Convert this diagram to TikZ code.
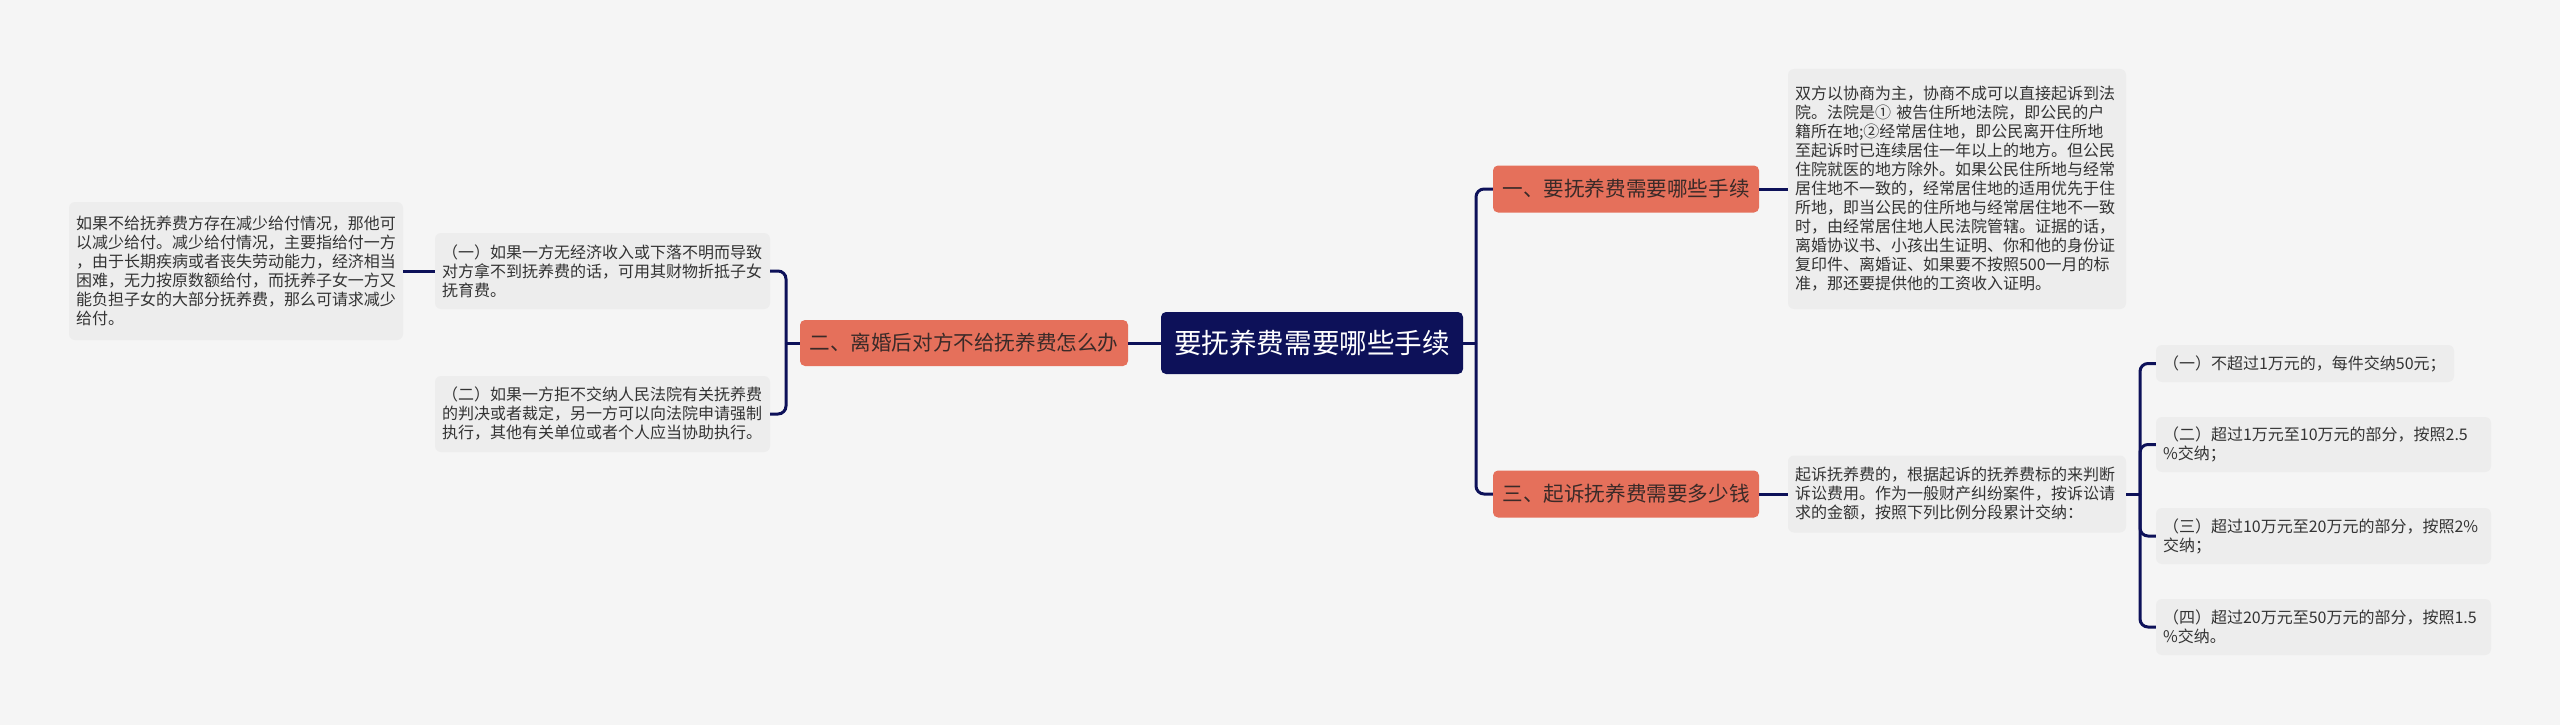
\documentclass[tikz,border=0pt]{standalone}
\usepackage{fontspec}
\setmainfont{Noto Sans CJK SC}
\usetikzlibrary{calc}
\definecolor{bg}{HTML}{F5F5F5}
\definecolor{navy}{HTML}{0D1159}
\definecolor{salmon}{HTML}{E5705B}
\definecolor{leaf}{HTML}{EDEDED}
\definecolor{txt}{HTML}{333333}
\definecolor{brtxt}{HTML}{3A2A28}
\begin{document}
\begin{tikzpicture}[x=1pt,y=-1pt,
  conn/.style={draw=navy,line width=3pt,rounded corners=8pt},
  leafbox/.style={fill=leaf,rounded corners=6pt,text=txt,font={\fontsize{16}{19}\selectfont},align=left,inner sep=0pt},
  branch/.style={fill=salmon,rounded corners=5pt,text=brtxt,font={\fontsize{20.6}{24}\selectfont},inner sep=0pt,minimum height=47pt},
  rootbox/.style={fill=navy,rounded corners=5pt,text=white,font={\fontsize{27.6}{32}\selectfont},inner sep=0pt,minimum width=302pt,minimum height=62pt}]
\fill[bg] (0,0) rectangle (2560,725);
\useasboundingbox (0,0) rectangle (2560,725);
% root
\node[rootbox] (C) at (1312,343) {要抚养费需要哪些手续};
% branches
\node[branch,minimum width=328pt,minimum height=46pt] (N2) at (964,343) {二、离婚后对方不给抚养费怎么办};
\node[branch,minimum width=266pt] (N1) at (1626,189) {一、要抚养费需要哪些手续};
\node[branch,minimum width=266pt] (N3) at (1626,494) {三、起诉抚养费需要多少钱};
% left leaves
\node[leafbox,minimum width=334pt,minimum height=138pt,text width=320pt] (FL) at (236,271) {如果不给抚养费方存在减少给付情况，那他可\\以减少给付。减少给付情况，主要指给付一方\\，由于长期疾病或者丧失劳动能力，经济相当\\困难，无力按原数额给付，而抚养子女一方又\\能负担子女的大部分抚养费，那么可请求减少\\给付。};
\node[leafbox,minimum width=335pt,minimum height=76pt,text width=321pt] (L1) at (602.5,271) {（一）如果一方无经济收入或下落不明而导致\\对方拿不到抚养费的话，可用其财物折抵子女\\抚育费。};
\node[leafbox,minimum width=335pt,minimum height=76pt,text width=321pt] (L2) at (602.5,414) {（二）如果一方拒不交纳人民法院有关抚养费\\的判决或者裁定，另一方可以向法院申请强制\\执行，其他有关单位或者个人应当协助执行。};
% right details
\node[leafbox,minimum width=338pt,minimum height=240pt,text width=324pt] (D1) at (1957,189) {双方以协商为主，协商不成可以直接起诉到法\\院。法院是① 被告住所地法院，即公民的户\\籍所在地;②经常居住地，即公民离开住所地\\至起诉时已连续居住一年以上的地方。但公民\\住院就医的地方除外。如果公民住所地与经常\\居住地不一致的，经常居住地的适用优先于住\\所地，即当公民的住所地与经常居住地不一致\\时，由经常居住地人民法院管辖。证据的话，\\离婚协议书、小孩出生证明、你和他的身份证\\复印件、离婚证、如果要不按照500一月的标\\准，那还要提供他的工资收入证明。};
\node[leafbox,minimum width=338pt,minimum height=77pt,text width=324pt] (D3) at (1957,494) {起诉抚养费的，根据起诉的抚养费标的来判断\\诉讼费用。作为一般财产纠纷案件，按诉讼请\\求的金额，按照下列比例分段累计交纳：};
% right leaves
\node[leafbox,minimum width=298pt,minimum height=37pt,text width=284pt] (R1) at (2305,363.5) {（一）不超过1万元的，每件交纳50元；};
\node[leafbox,minimum width=335pt,minimum height=55pt,text width=321pt] (R2) at (2323.5,444.5) {（二）超过1万元至10万元的部分，按照2.5\\\%交纳；};
\node[leafbox,minimum width=335pt,minimum height=56pt,text width=321pt] (R3) at (2323.5,536) {（三）超过10万元至20万元的部分，按照2\%\\交纳；};
\node[leafbox,minimum width=335pt,minimum height=56pt,text width=321pt] (R4) at (2323.5,627) {（四）超过20万元至50万元的部分，按照1.5\\\%交纳。};
% connectors
\coordinate (bl) at (786,343);
\coordinate (br) at (1476,343);
\coordinate (bd) at (2140,494);
\draw[conn] (C.west) -- (N2.east);
\draw[conn] (N2.west) -- (bl);
\draw[conn] (bl) |- (L1.east);
\draw[conn] (bl) |- (L2.east);
\draw[conn] (L1.west) -- (FL.east);
\draw[conn] (C.east) -- (br);
\draw[conn] (br) |- (N1.west);
\draw[conn] (br) |- (N3.west);
\draw[conn] (N1.east) -- (D1.west);
\draw[conn] (N3.east) -- (D3.west);
\draw[conn] (D3.east) -- (bd);
\draw[conn] (bd) |- (R1.west);
\draw[conn] (bd) |- (R2.west);
\draw[conn] (bd) |- (R3.west);
\draw[conn] (bd) |- (R4.west);
\end{tikzpicture}
\end{document}
